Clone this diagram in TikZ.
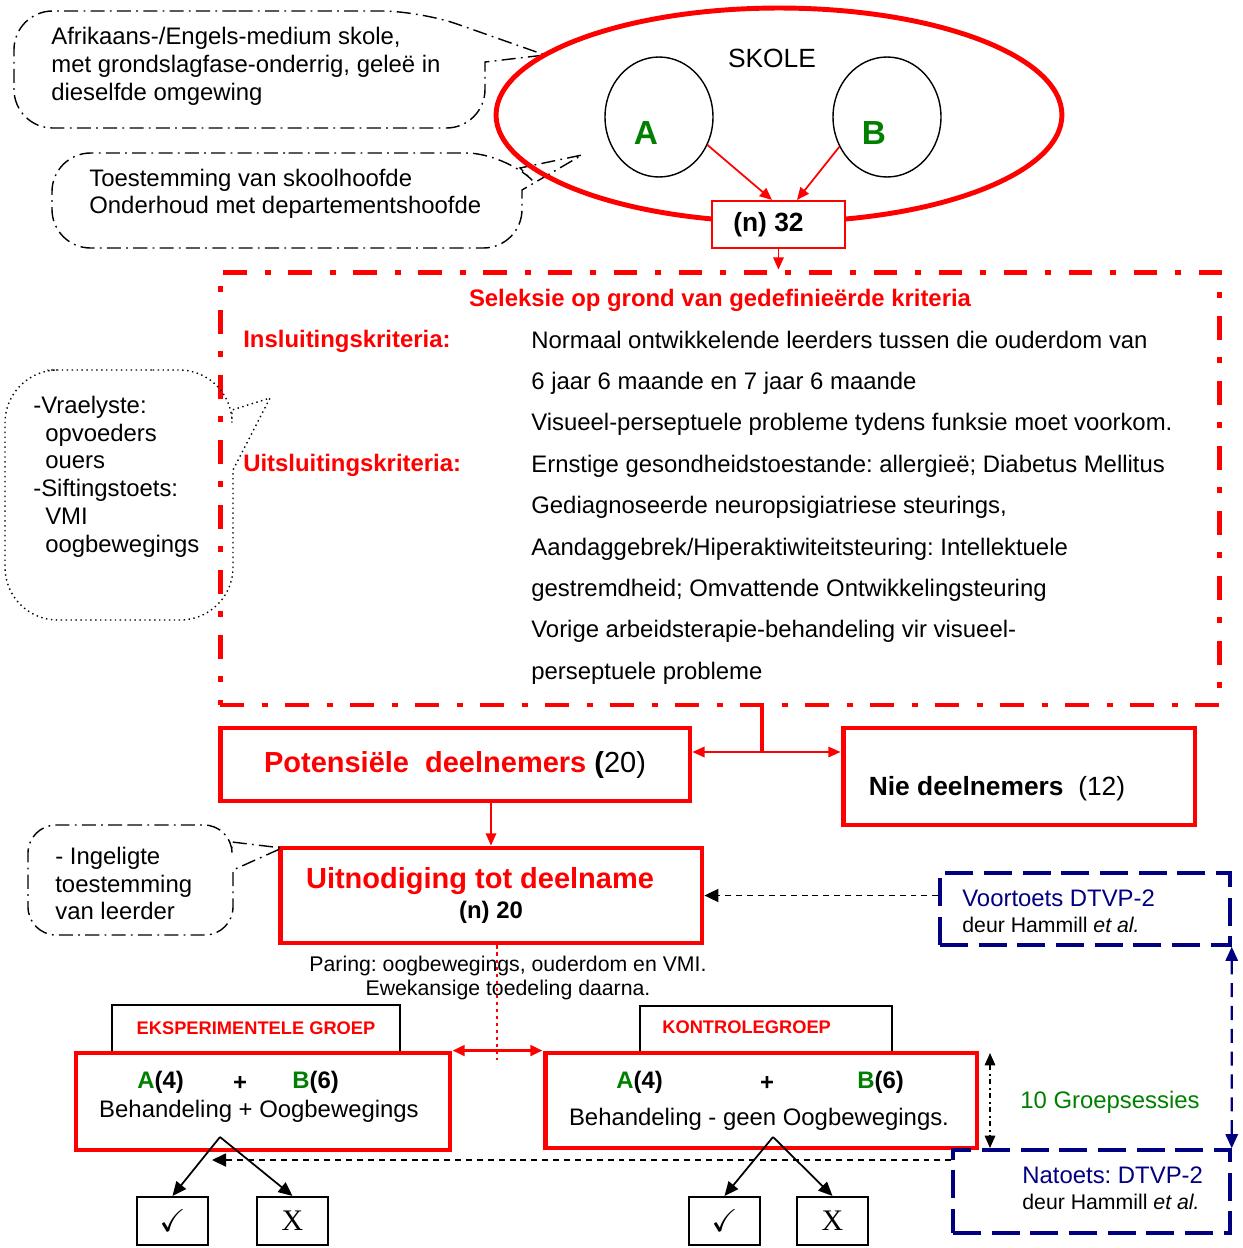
\documentclass[tikz,border=0pt]{standalone}
\usepackage{amssymb}
\usepackage{fontspec}
\setmainfont{Liberation Sans}
\newfontfamily\seriffam{Liberation Serif}
\usetikzlibrary{arrows.meta,shapes.geometric}
\definecolor{navy}{RGB}{0,0,128}
\definecolor{grn}{RGB}{0,128,0}
\frenchspacing
\newcommand\fbase{\fontsize{13.6}{16}\selectfont}
\newcommand\fbig{\fontsize{16.5}{19}\selectfont}
\newcommand\fsmall{\fontsize{12.1}{14}\selectfont}
\tikzset{
  lefttext/.style = {anchor = west, inner xsep = 0pt},
  thickbox/.style = {draw = red, line width = 2.8pt, fill = white},
  thinbox/.style = {draw = red, line width = 1.2pt, fill = white},
  tagbox/.style = {draw, line width = 1.2pt, fill = white, minimum height = .94cm},
  chkbox/.style = {draw, line width = 1.2pt, minimum width = 1.42cm, minimum height = .96cm},
  testbox/.style = {draw = navy, line width = 2pt, dash pattern = on 16pt off 6pt},
  selbox/.style = {draw = red, line width = 2.8pt, dash pattern = on 13.6pt off 10pt on 3.4pt off 10pt},
  circ/.style = {draw, ellipse, line width = .8pt, minimum width = 2.16cm, minimum height = 2.4cm},
  letter/.style = {text = grn, font = \fontsize{19}{22}\selectfont\bfseries},
  callout/.style = {line width = .8pt, dash pattern = on 8pt off 3pt on 1pt off 3pt},
  dotcall/.style = {line width = .8pt, dotted},
  redarrow/.style = {->, red, line width = 1pt},
  blkarrow/.style = {-{Triangle[length = 8pt, width = 7pt]}, line width = 1pt},
  dasharrow/.style = {-{Triangle[length = 8pt, width = 7.5pt]}, line width = .8pt, dash pattern = on 3.4pt off 2.8pt},
  navyarrow/.style = {{Triangle[length = 8pt, width = 7pt]}-{Triangle[length = 8pt, width = 7pt]}, navy, line width = 1.2pt, dash pattern = on 8pt off 5pt},
  gsarrow/.style = {<->, line width = .8pt, dash pattern = on 3pt off 2pt on 1pt off 2pt},
  reddot/.style = {red, line width = 1.6pt, dash pattern = on 2pt off 2pt}
}
\begin{document}
\begin{tikzpicture}[x = .02cm, y = -.02cm, font = \fbase,
    >= {Triangle[length = 7pt, width = 6pt]}]
  \useasboundingbox (0,0) rectangle (1242,1248);

  \draw[callout] (200,11) [rounded corners = 22] -- (420,11) [sharp corners] -- (545,55) -- (485,62)
    [rounded corners = 22] -- (485,128) -- (14,128) -- (14,11) -- cycle;
  \node[lefttext, align = left, font = \fontsize{13.6}{15.9}\selectfont] (where) at (51,66)
    {Afrikaans-/Engels-medium skole,\\met grondslagfase-onderrig, geleë in\\dieselfde omgewing};
  \draw[callout] (250,153) [rounded corners = 22] -- (505,153) [sharp corners] -- (520,168) -- (582,155)
    -- (522,190) [rounded corners = 22] -- (522,248) -- (52,248) -- (52,153) -- cycle;
  \node[lefttext, align = left, font = \fontsize{13.6}{15.4}\selectfont] (perm) at (89,194)
    {Toestemming van skoolhoofde\\Onderhoud met departementshoofde};

  \node[ellipse, draw = red, line width = 2.8pt, minimum width = 11.32cm, minimum height = 4.28cm] (skole) at (779,115) {};
  \node[font = \fontsize{15}{18}\selectfont] (skoletxt) at (772,58) {SKOLE};
  \node[circ] (ca) at (659,117) {};
  \node[circ] (cb) at (887,117) {};
  \node[letter] (la) at (646,133) {A};
  \node[letter] (lb) at (874,133) {B};
  \node[thinbox, minimum width = 2.66cm, minimum height = .94cm, font = \fontsize{15}{18}\selectfont\bfseries] (n32) at (778.5,224.5)
    {(n) 32\hspace*{.4cm}};
  \draw[redarrow] (ca.-30) -- ([xshift = -.13cm]n32.north);
  \draw[redarrow] (cb.212) -- ([xshift = .37cm]n32.north);

  \node[selbox, minimum width = 20cm, minimum height = 8.66cm] (sel) at (720,488.5) {};
  \draw[redarrow] (n32.south) -- (n32.south |- sel.north);
  \node[text = red, font = \fbase\bfseries] (seltitle) at (720,300) {Seleksie op grond van gedefinieërde kriteria};
  \node[lefttext, text = red, font = \fbase\bfseries] (incl) at (243,341) {Insluitingskriteria:};
  \node[lefttext, text = red, font = \fbase\bfseries] (excl) at (243,465) {Uitsluitingskriteria:};
  \node[lefttext, align = left, font = \fontsize{13.6}{23.55}\selectfont] (crit) at (531,507.5)
    {Normaal ontwikkelende leerders tussen die ouderdom van\\
     6 jaar 6 maande en 7 jaar 6 maande\\
     Visueel-perseptuele probleme tydens funksie moet voorkom.\\
     Ernstige gesondheidstoestande: allergieë; Diabetus Mellitus\\
     Gediagnoseerde neuropsigiatriese steurings,\\
     Aandaggebrek/Hiperaktiwiteitsteuring: Intellektuele\\
     gestremdheid; Omvattende Ontwikkelingsteuring\\
     Vorige arbeidsterapie-behandeling vir visueel-\\
     perseptuele probleme};

  \draw[dotcall] (100,370) [rounded corners = 30] -- (232,370) [sharp corners] -- (232,410) -- (270,398)
    -- (233,470) [rounded corners = 30] -- (233,620) -- (5,620) -- (5,370) -- cycle;
  \node[lefttext, align = left, font = \fontsize{13.6}{15.8}\selectfont] (lists) at (33,476.5)
    {-Vraelyste:\\\hspace*{6.8pt}opvoeders\\\hspace*{6.8pt}ouers\\-Siftingstoets:\\\hspace*{6.8pt}VMI\\\hspace*{6.8pt}oogbewegings};

  \node[thickbox, minimum width = 9.4cm, minimum height = 1.46cm, text = red, font = \fbig\bfseries] (pot) at (455,764.5)
    {Potensiële\ \ deelnemers \textcolor{black}{(\mdseries 20)}};
  \node[thickbox, minimum width = 7.04cm, minimum height = 1.94cm] (nie) at (1019,776.5) {};
  \node[font = \fontsize{15}{18}\selectfont] (nietxt) at (997,789) {\textbf{Nie deelnemers}\ \ (12)};
  \coordinate (split) at (762,752);
  \draw[red, line width = 2.4pt] (split |- sel.south) -- (split);
  \draw[redarrow] (split) -- (split -| pot.east);
  \draw[redarrow] (split) -- (split -| nie.west);

  \node[thickbox, minimum width = 8.44cm, minimum height = 1.9cm, align = center, font = \fontsize{13.6}{17}\selectfont] (uit) at (491,895.5)
    {{\fbig\bfseries\color{red}Uitnodiging tot deelname}\hspace*{.44cm}\\\textbf{(n) 20}};
  \draw[redarrow] (uit.north |- pot.south) -- (uit.north);
  \draw[callout] (100,825) [rounded corners = 16] -- (232,825) [sharp corners] -- (232,842) -- (282,848)
    -- (233,870) [rounded corners = 16] -- (233,935) -- (28,935) -- (28,825) -- cycle;
  \node[lefttext, align = left, font = \fontsize{13.6}{15.6}\selectfont] (consent) at (55,883.5)
    {- Ingeligte\\toestemming\\van leerder};

  \node[testbox, minimum width = 5.8cm, minimum height = 1.44cm] (voor) at (1085,909) {};
  \node[lefttext, align = left, font = \fontsize{13.6}{14.8}\selectfont] (voortxt) at (962,911)
    {\textcolor{navy}{Voortoets DTVP-2}\\{\fsmall deur Hammill \textit{et al.}}};
  \draw[dasharrow] (voor.west |- uit.east) -- (uit.east);

  \node[font = \fontsize{12.1}{13.7}\selectfont, align = center] (paring) at (508,978)
    {Paring: oogbewegings, ouderdom en VMI.\\Ewekansige toedeling daarna.};

  \node[tagbox, minimum width = 5.76cm, text = red, font = \fontsize{10.4}{12}\selectfont\bfseries] (eksp) at (256,1028.5) {EKSPERIMENTELE GROEP};
  \node[tagbox, minimum width = 5.04cm] (kont) at (766,1029.5) {};
  \node[lefttext, text = red, font = \fontsize{10.4}{12}\selectfont\bfseries] (konttxt) at (662,1027) {KONTROLEGROEP};

  \node[thickbox, minimum width = 7.48cm, minimum height = 1.94cm] (exp) at (263,1101.5) {};
  \node[thickbox, minimum width = 8.64cm, minimum height = 1.9cm] (con) at (761,1100.5) {};
  \node[lefttext, font = \fbase\bfseries] (ea) at (137,1082) {\textcolor{grn}{A}(4)};
  \node[font = \fbase\bfseries] (eplus) at (240,1083) {+};
  \node[lefttext, font = \fbase\bfseries] (eb) at (292,1082) {\textcolor{grn}{B}(6)};
  \node (etxt) at (259,1111) {Behandeling + Oogbewegings};
  \node[lefttext, font = \fbase\bfseries] (ka) at (616,1082) {\textcolor{grn}{A}(4)};
  \node[font = \fbase\bfseries] (kplus) at (767,1083) {+};
  \node[lefttext, font = \fbase\bfseries] (kb) at (857,1082) {\textcolor{grn}{B}(6)};
  \node (ktxt) at (759,1119) {Behandeling - geen Oogbewegings.};
  \draw[redarrow, <->, line width = 2pt] (exp.north east) -- (con.north west);
  \coordinate (pair) at (497,1060);
  \draw[reddot] (pair |- uit.south) -- (pair);

  \node[chkbox, font = \fontsize{18}{20}\selectfont] (ok1) at (172.5,1221) {$\checkmark$};
  \node[chkbox, font = \fontsize{17}{20}\seriffam] (no1) at (292.5,1221) {X};
  \node[chkbox, font = \fontsize{18}{20}\selectfont] (ok2) at (724.5,1221) {$\checkmark$};
  \node[chkbox, font = \fontsize{17}{20}\seriffam] (no2) at (832.5,1221) {X};
  \coordinate (eapex) at (220,1137);
  \coordinate (kapex) at (773,1137);
  \draw[blkarrow] (eapex) -- (ok1.north);
  \draw[blkarrow] (eapex) -- (no1.north);
  \draw[blkarrow] (kapex) -- (ok2.north);
  \draw[blkarrow] (kapex) -- (no2.north);

  \node[testbox, minimum width = 5.54cm, minimum height = 1.66cm] (nat) at (1091.5,1191.5) {};
  \node[lefttext, align = left, font = \fontsize{13.6}{14.8}\selectfont] (nattxt) at (1022,1188)
    {\textcolor{navy}{Natoets: DTVP-2}\\{\fsmall deur Hammill \textit{et al.}}};
  \coordinate (back) at (212,1160);
  \draw[dasharrow] (back -| nat.west) -- (back);
  \draw[navyarrow] (voor.south east) -- (nat.north east);
  \coordinate (gs1) at (990,1053);
  \coordinate (gs2) at (990,1148);
  \draw[gsarrow] (gs1) -- (gs2);
  \node[text = grn] (sess) at (1110,1102) {10 Groepsessies};
\end{tikzpicture}
\end{document}
